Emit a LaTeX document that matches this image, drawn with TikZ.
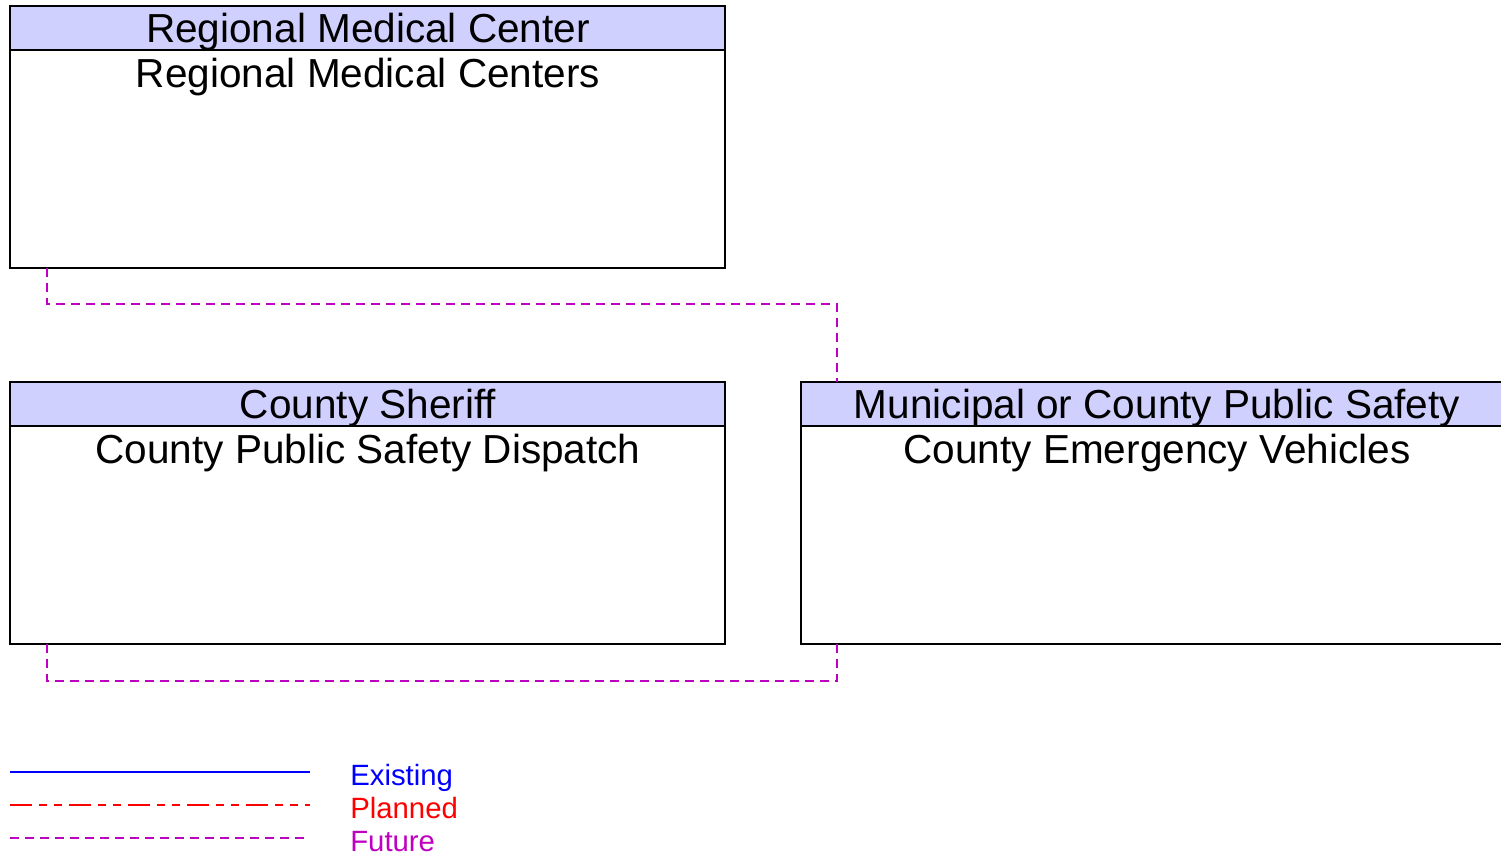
\documentclass[tikz,border=0pt]{standalone}
\usepackage{fontspec}
\setmainfont{Liberation Sans}
\usetikzlibrary{calc}
\definecolor{hdr}{RGB}{208,208,255}
\definecolor{fut}{RGB}{192,0,192}
\tikzset{
  box/.style={draw=black, line width=1pt, fill=white, rectangle, anchor=north west, minimum width=536.25pt, minimum height=196.5pt, inner sep=0pt, outer sep=0pt},
  hdrbox/.style={draw=black, line width=1pt, fill=hdr, rectangle, anchor=north west, minimum width=536.25pt, minimum height=33pt, inner sep=0pt, outer sep=0pt},
  ttl/.style={font=\fontsize{30.4}{32}\selectfont, inner sep=0pt, anchor=base},
  futline/.style={draw=fut, line width=0.9pt, dash pattern=on 6.75pt off 4.5pt},
  planline/.style={draw=red, line width=1pt, dash pattern=on 16.5pt off 5.25pt on 6pt off 5.25pt on 6pt off 5.25pt},
  exline/.style={draw=blue, line width=2pt},
  legtxt/.style={font=\fontsize{22}{24}\selectfont, anchor=base west, inner sep=0pt}
}
\begin{document}
\begin{tikzpicture}[x=0.75pt,y=-0.75pt]
\useasboundingbox (0,0) rectangle (1501,855);
% Regional Medical Center
\node[box] (rmc) at (10,6) {};
\node[hdrbox] (rmch) at (10,6) {};
\node[ttl] (rmct) at (368,42.5) {Regional Medical Center};
\node[ttl] (rmcb) at (368,87.5) {Regional Medical Centers};
% County Sheriff
\node[box] (cs) at (10,382) {};
\node[hdrbox] (csh) at (10,382) {};
\node[ttl] (cst) at (368,418.5) {County Sheriff};
\node[ttl] (csb) at (368,463.5) {County Public Safety Dispatch};
% Municipal or County Public Safety
\begin{scope}
\clip (0,0) rectangle (1501,855);
\node[box] (mc) at (801,382) {};
\node[hdrbox] (mch) at (801,382) {};
\end{scope}
\node[ttl] (mct) at (1157,418.5) {Municipal or County Public Safety};
\node[ttl] (mcb) at (1157,463.5) {County Emergency Vehicles};
% connectors
\draw[futline] ($(rmc.south west)+(37,0)$) -- ++(0,36) -| ($(mch.north west)+(36,0)$);
\draw[futline] ($(cs.south west)+(37,0)$) -- ++(0,37) -| ($(mc.south west)+(36,0)$);
% legend
\coordinate (l1a) at (10,772); \coordinate (l1b) at (310,772);
\coordinate (l2a) at (10,805); \coordinate (l2b) at (310,805);
\coordinate (l3a) at (10,838); \coordinate (l3b) at (310,838);
\draw[exline] (l1a) -- (l1b);
\draw[planline] (l2a) -- (l2b);
\draw[futline] (l3a) -- (l3b);
\node[legtxt, text=blue] (le) at (350,785) {Existing};
\node[legtxt, text=red] (lp) at (350,818) {Planned};
\node[legtxt, text=fut] (lf) at (350,851) {Future};
\end{tikzpicture}
\end{document}
